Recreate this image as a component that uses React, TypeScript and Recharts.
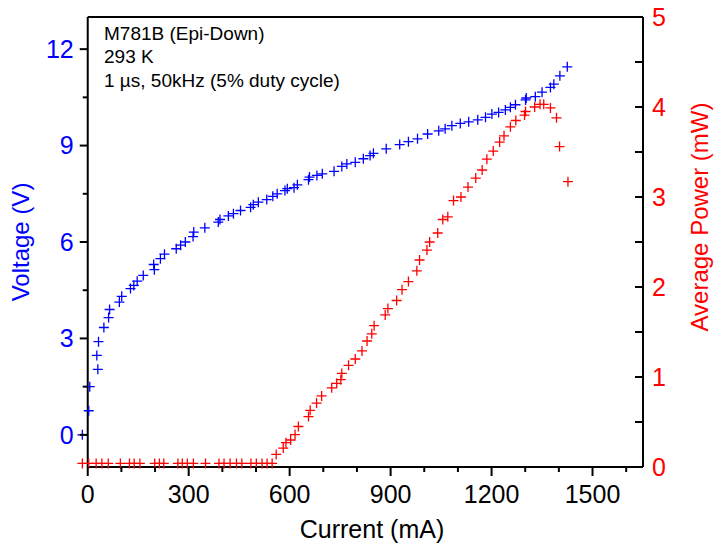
import React from 'react';
import { ScatterChart, Scatter, XAxis, YAxis, ReferenceLine } from 'recharts';

// ---- data ----
const currentV = [
  -16, 3, 6, 30, 27, 32, 48, 62, 65, 94, 101, 127, 137, 147, 165, 198, 196, 216, 228, 263,
  276, 290, 313, 315, 348, 388, 393, 418, 433, 454, 484, 492, 507, 532, 550, 563, 586, 593,
  613, 623, 656, 659, 681, 697, 732, 755, 770, 795, 819, 839, 849, 887, 927, 953, 980, 1010,
  1043, 1062, 1082, 1107, 1132, 1159, 1182, 1201, 1221, 1241, 1256, 1271, 1301, 1303, 1330,
  1350, 1375, 1385, 1403, 1425,
];
const voltage = [
  0.0, 0.75, 1.5, 2.04, 2.47, 2.9, 3.34, 3.65, 3.9, 4.13, 4.31, 4.55, 4.65, 4.78, 4.96, 5.14,
  5.3, 5.48, 5.62, 5.79, 5.9, 6.0, 6.17, 6.31, 6.44, 6.62, 6.7, 6.81, 6.88, 6.98, 7.08, 7.16,
  7.24, 7.32, 7.42, 7.5, 7.6, 7.66, 7.69, 7.78, 7.94, 8.02, 8.07, 8.12, 8.2, 8.35, 8.43, 8.48,
  8.59, 8.69, 8.76, 8.9, 9.03, 9.12, 9.21, 9.36, 9.46, 9.52, 9.62, 9.69, 9.74, 9.8, 9.88, 9.98,
  10.03, 10.11, 10.19, 10.27, 10.42, 10.48, 10.52, 10.66, 10.81, 10.91, 11.17, 11.45,
];

const currentP = [
  -16, 3, 25, 42, 61, 97, 124, 138, 155, 199, 213, 226, 268, 281, 296, 314, 350, 390, 405, 423,
  442, 458, 485, 501, 518, 533, 548,
  560, 581, 589, 603, 616, 626, 656, 661, 680, 695, 725, 740, 752, 755, 775, 795, 815, 830, 844,
  851, 884, 892, 918, 934, 953, 978, 986, 1008, 1016, 1040, 1055, 1070, 1087, 1109, 1130, 1153,
  1172, 1186, 1205, 1224, 1237, 1256, 1272, 1298, 1301, 1328, 1344, 1355, 1375, 1393, 1402, 1427,
];
const power = [
  0.04, 0.04, 0.04, 0.04, 0.04, 0.04, 0.04, 0.04, 0.04, 0.04, 0.04, 0.04, 0.04, 0.04, 0.04, 0.04,
  0.04, 0.04, 0.04, 0.04, 0.04, 0.04, 0.04, 0.04, 0.04, 0.04, 0.04,
  0.14, 0.21, 0.27, 0.3, 0.36, 0.45, 0.56, 0.63, 0.71, 0.79, 0.88, 0.93, 0.97, 1.04, 1.13, 1.2,
  1.29, 1.4, 1.48, 1.57, 1.69, 1.76, 1.85, 1.97, 2.06, 2.18, 2.3, 2.41, 2.5, 2.6, 2.75, 2.78,
  2.96, 3.0, 3.11, 3.21, 3.3, 3.42, 3.51, 3.61, 3.68, 3.78, 3.85, 3.91, 3.95, 4.0, 4.03, 4.03,
  3.99, 3.88, 3.56, 3.17,
];

const xTicks = [0, 100, 200, 300, 400, 500, 600, 700, 800, 900, 1000, 1100, 1200, 1300, 1400, 1500, 1600];
const xMajorTicks = [0, 300, 600, 900, 1200, 1500];
const vTicks = [0, 1.5, 3, 4.5, 6, 7.5, 9, 10.5, 12];
const vMajorTicks = [0, 3, 6, 9, 12];
const pTicks = [0, 0.5, 1, 1.5, 2, 2.5, 3, 3.5, 4, 4.5, 5];
const pMajorTicks = [0, 1, 2, 3, 4, 5];
const notes = ['M781B (Epi-Down)', '293 K', '1 \u00b5s, 50kHz (5% duty cycle)'];

const xTitle = 'Current (mA)';
const vTitle = 'Voltage (V)';
const pTitle = 'Average Power (mW)';

// ---- layout ----
const W = 717;
const H = 549;
const X_DOMAIN: [number, number] = [-20, 1650];
const V_DOMAIN: [number, number] = [-1, 13];
const P_DOMAIN: [number, number] = [0, 5];
const LEFT_W = 81;
const RIGHT_W = 74;
const TOP = 17;
const BOTTOM_H = 82;
const PLOT_W = W - LEFT_W - RIGHT_W;
// pixel distance between plot's left edge and current = 0 (where the left axis sits)
const ZERO_SHIFT = ((0 - X_DOMAIN[0]) / (X_DOMAIN[1] - X_DOMAIN[0])) * PLOT_W;

const FONT = '"Liberation Sans", Arial, Helvetica, sans-serif';
const BLUE = '#0000ff';
const RED = '#ff0000';

const vData = currentV.map((c, i) => ({ current: c, voltage: voltage[i] }));
const pData = currentP.map((c, i) => ({ current: c, power: power[i] }));

const plus = (color: string) => (props: any) => {
  const { cx, cy } = props;
  if (cx == null || cy == null) return <g />;
  return (
    <path
      d={`M${cx - 5},${cy}H${cx + 5}M${cx},${cy - 5}V${cy + 5}`}
      stroke={color}
      strokeWidth={1.3}
      fill="none"
    />
  );
};

const BottomTick = (props: any) => {
  const { x, y, payload } = props;
  const major = xMajorTicks.includes(payload.value);
  return (
    <g>
      <line x1={x} y1={y} x2={x} y2={y + (major ? 9 : 5)} stroke="#000" strokeWidth={2} />
      {major && (
        <text x={x} y={y + 36} textAnchor="middle" fontSize={25} fontFamily={FONT} fill="#000">
          {payload.value}
        </text>
      )}
    </g>
  );
};

const TopTick = (props: any) => {
  const { x, y } = props;
  return <line x1={x} y1={y} x2={x} y2={y + 8} stroke="#000" strokeWidth={2} />;
};

const LeftTick = (props: any) => {
  const { x, y, payload } = props;
  const ax = x + ZERO_SHIFT;
  const major = vMajorTicks.includes(payload.value);
  return (
    <g>
      <line x1={ax} y1={y} x2={ax - (major ? 8 : 5)} y2={y} stroke="#000" strokeWidth={2} />
      {major && (
        <text x={ax - 14} y={y} dy="0.35em" textAnchor="end" fontSize={25} fontFamily={FONT} fill={BLUE}>
          {payload.value}
        </text>
      )}
    </g>
  );
};

const RightTick = (props: any) => {
  const { x, y, payload } = props;
  const major = pMajorTicks.includes(payload.value);
  return (
    <g>
      <line x1={x} y1={y} x2={x - 8} y2={y} stroke="#000" strokeWidth={2} />
      {major && (
        <text x={x + 9} y={y} dy="0.35em" textAnchor="start" fontSize={25} fontFamily={FONT} fill={RED}>
          {payload.value}
        </text>
      )}
    </g>
  );
};

const XTitle = (props: any) => {
  const vb = props.viewBox || { x: LEFT_W, y: H - BOTTOM_H, width: PLOT_W, height: BOTTOM_H };
  return (
    <text x={vb.x + vb.width / 2 + 10} y={vb.y + 71} textAnchor="middle" fontSize={25} fontFamily={FONT} fill="#000">
      {xTitle}
    </text>
  );
};

const VTitle = (props: any) => {
  const vb = props.viewBox || { x: 0, y: TOP, width: LEFT_W, height: H - TOP - BOTTOM_H };
  const cx = vb.x + 29;
  const cy = vb.y + vb.height / 2;
  return (
    <text x={cx} y={cy} transform={`rotate(-90, ${cx}, ${cy})`} textAnchor="middle" fontSize={24} fontFamily={FONT} fill={BLUE}>
      {vTitle}
    </text>
  );
};

const PTitle = (props: any) => {
  const vb = props.viewBox || { x: W - RIGHT_W, y: TOP, width: RIGHT_W, height: H - TOP - BOTTOM_H };
  const cx = vb.x + 65;
  const cy = vb.y + 200;
  return (
    <text x={cx} y={cy} transform={`rotate(-90, ${cx}, ${cy})`} textAnchor="middle" fontSize={24} fontFamily={FONT} fill={RED}>
      {pTitle}
    </text>
  );
};

export default function App() {
  return (
    <div style={{ position: 'absolute', left: 0, top: 0, width: W, height: H, background: '#fff' }}>
      <ScatterChart width={W} height={H} margin={{ top: TOP - 1, right: 0, bottom: 0, left: 0 }}>
        <XAxis
          xAxisId="b"
          type="number"
          dataKey="current"
          orientation="bottom"
          domain={X_DOMAIN}
          ticks={xTicks}
          interval={0}
          height={BOTTOM_H}
          axisLine={false}
          tickLine={false}
          tickSize={0}
          tickMargin={0}
          tick={BottomTick}
          label={XTitle}
        />
        <XAxis
          xAxisId="t"
          type="number"
          orientation="top"
          domain={X_DOMAIN}
          allowDataOverflow
          ticks={xTicks}
          interval={0}
          height={1}
          axisLine={false}
          tickLine={false}
          tickSize={0}
          tickMargin={0}
          tick={TopTick}
        />
        <YAxis
          yAxisId="v"
          type="number"
          dataKey="voltage"
          orientation="left"
          domain={V_DOMAIN}
          ticks={vTicks}
          interval={0}
          width={LEFT_W}
          axisLine={false}
          tickLine={false}
          tickSize={0}
          tickMargin={0}
          tick={LeftTick}
          label={VTitle}
        />
        <YAxis
          yAxisId="p"
          type="number"
          dataKey="power"
          orientation="right"
          domain={P_DOMAIN}
          ticks={pTicks}
          interval={0}
          width={RIGHT_W}
          axisLine={false}
          tickLine={false}
          tickSize={0}
          tickMargin={0}
          tick={RightTick}
          label={PTitle}
        />
        <ReferenceLine xAxisId="b" yAxisId="v" x={0} stroke="#000" strokeWidth={2} />
        <ReferenceLine xAxisId="b" yAxisId="v" x={X_DOMAIN[1]} stroke="#000" strokeWidth={2} />
        <ReferenceLine
          xAxisId="b"
          yAxisId="v"
          segment={[{ x: 0, y: V_DOMAIN[0] }, { x: X_DOMAIN[1], y: V_DOMAIN[0] }]}
          stroke="#000"
          strokeWidth={2}
        />
        <ReferenceLine
          xAxisId="b"
          yAxisId="v"
          segment={[{ x: 0, y: V_DOMAIN[1] }, { x: X_DOMAIN[1], y: V_DOMAIN[1] }]}
          stroke="#000"
          strokeWidth={2}
        />
        <Scatter data={vData} xAxisId="b" yAxisId="v" shape={plus(BLUE)} isAnimationActive={false} />
        <Scatter data={pData} xAxisId="b" yAxisId="p" shape={plus(RED)} isAnimationActive={false} />
        <g>
          {notes.map((n, i) => (
            <text key={i} x={104} y={40 + i * 23.4} fontSize={19} fontFamily={FONT} fill="#000">
              {n}
            </text>
          ))}
        </g>
      </ScatterChart>
    </div>
  );
}
